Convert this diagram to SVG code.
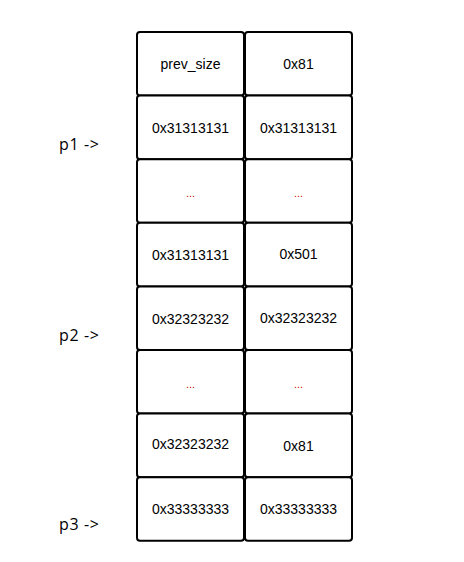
<svg xmlns="http://www.w3.org/2000/svg" width="464" height="562" viewBox="0 0 464 562">
<style>
.c{fill:#fff;stroke:#000;stroke-width:2}
.t{font-family:"Liberation Sans",Arial,sans-serif;font-size:14px;fill:#000;text-anchor:middle}
.d{font-family:"Liberation Sans",Arial,sans-serif;font-size:11px;fill:#c00;text-anchor:middle}
.p{font-family:"Open Sans","Noto Sans",sans-serif;font-size:16px;fill:#000;letter-spacing:0.6px}
</style>
<rect width="464" height="562" fill="#fff"/>
<g id="r0"><rect class="c" x="137" y="32" width="107" height="63.6" rx="3"/><text class="t" x="190.5" y="69">prev_size</text><rect class="c" x="245" y="32" width="107" height="63.6" rx="3"/><text class="t" x="298.5" y="69">0x81</text></g>
<g id="r1"><rect class="c" x="137" y="95.6" width="107" height="63.6" rx="3"/><text class="t" x="190.5" y="133">0x31313131</text><rect class="c" x="245" y="95.6" width="107" height="63.6" rx="3"/><text class="t" x="298.5" y="133">0x31313131</text></g>
<g id="r2"><rect class="c" x="137" y="159.2" width="107" height="63.6" rx="3"/><text class="d" x="190.5" y="197">...</text><rect class="c" x="245" y="159.2" width="107" height="63.6" rx="3"/><text class="d" x="298.5" y="197">...</text></g>
<g id="r3"><rect class="c" x="137" y="222.8" width="107" height="63.6" rx="3"/><text class="t" x="190.5" y="260">0x31313131</text><rect class="c" x="245" y="222.8" width="107" height="63.6" rx="3"/><text class="t" x="298.5" y="259">0x501</text></g>
<g id="r4"><rect class="c" x="137" y="286.4" width="107" height="63.6" rx="3"/><text class="t" x="190.5" y="324">0x32323232</text><rect class="c" x="245" y="286.4" width="107" height="63.6" rx="3"/><text class="t" x="298.5" y="323">0x32323232</text></g>
<g id="r5"><rect class="c" x="137" y="350" width="107" height="63.6" rx="3"/><text class="d" x="190.5" y="388">...</text><rect class="c" x="245" y="350" width="107" height="63.6" rx="3"/><text class="d" x="298.5" y="388">...</text></g>
<g id="r6"><rect class="c" x="137" y="413.6" width="107" height="63.6" rx="3"/><text class="t" x="190.5" y="449">0x32323232</text><rect class="c" x="245" y="413.6" width="107" height="63.6" rx="3"/><text class="t" x="298.5" y="451">0x81</text></g>
<g id="r7"><rect class="c" x="137" y="477.2" width="107" height="63.6" rx="3"/><text class="t" x="190.5" y="514">0x33333333</text><rect class="c" x="245" y="477.2" width="107" height="63.6" rx="3"/><text class="t" x="298.5" y="514">0x33333333</text></g>
<g id="labels"><text class="p" x="59" y="150">p1 -&gt;</text><text class="p" x="59" y="341">p2 -&gt;</text><text class="p" x="59" y="530">p3 -&gt;</text></g>
<g id="connectors"></g>
</svg>
